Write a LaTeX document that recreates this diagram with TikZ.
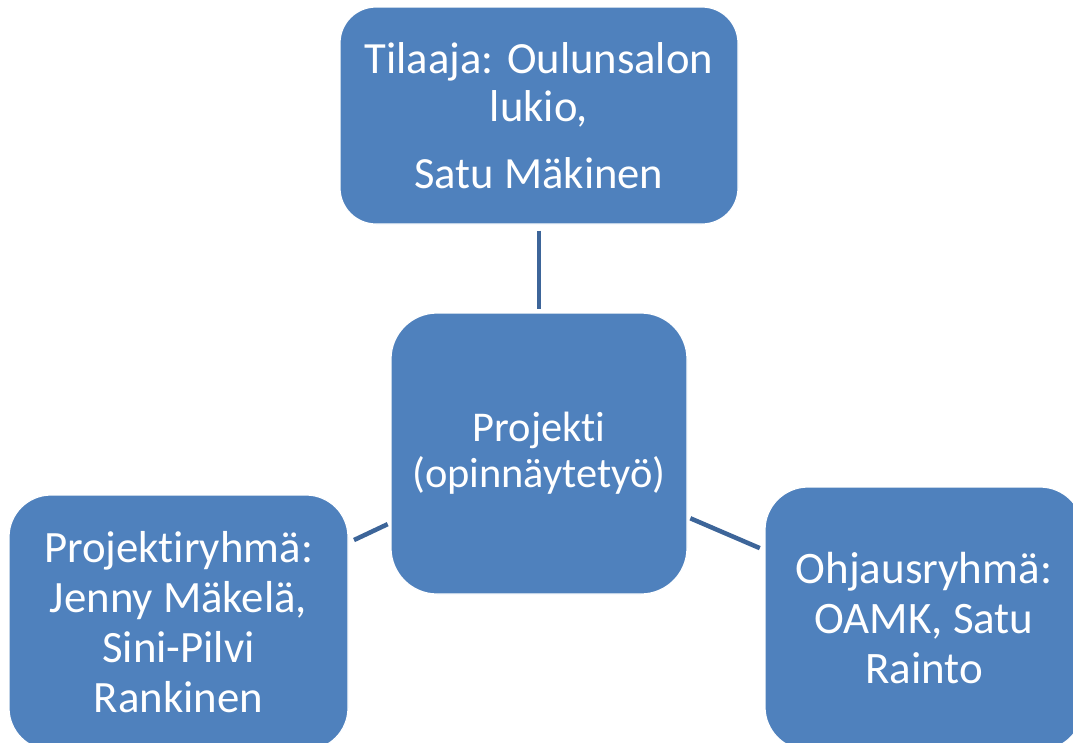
\documentclass[tikz,border=0pt]{standalone}
\usepackage{fontspec}
\setmainfont{Carlito}[Ligatures=NoCommon]
\definecolor{boxblue}{HTML}{4F81BD}
\definecolor{linkblue}{HTML}{3D6599}
\tikzset{
  card/.style={draw=white, line width=1.2pt, fill=boxblue, text=white, align=center, inner sep=0pt},
  link/.style={draw=linkblue, line width=4.5pt},
}
\begin{document}
\begin{tikzpicture}[x=1pt,y=-1pt]
\useasboundingbox (0,0) rectangle (1073,742);
\node[card, rounded corners=36pt, minimum width=398pt, minimum height=217pt,
  font=\fontsize{44.6}{48}\selectfont] (top) at (539,115.5)
  {Tilaaja: Oulunsalon\\ lukio,\\[19pt] Satu Mäkinen};
\node[card, rounded corners=46pt, minimum width=296pt, minimum height=281pt,
  font=\fontsize{42.4}{46}\selectfont] (mid) at (539,453.5)
  {Projekti\\ (opinnäytetyö)};
\node[card, rounded corners=42pt, minimum width=339pt, minimum height=255pt,
  font=\fontsize{44.8}{50}\selectfont] (left) at (178.5,622.5)
  {Projektiryhmä:\\ Jenny Mäkelä,\\ Sini-Pilvi\\ Rankinen};
\node[card, rounded corners=43pt, minimum width=318pt, minimum height=263pt,
  font=\fontsize{45}{50}\selectfont] (right) at (924,618.5)
  {Ohjausryhmä:\\ OAMK, Satu\\ Rainto};
\draw[link, shorten <=6pt, shorten >=3pt] (top) -- (mid);
\draw[link, shorten <=6pt, shorten >=3pt] (left) -- (mid);
\draw[link, shorten <=5pt, shorten >=3pt] (right) -- (mid);
\end{tikzpicture}
\end{document}
